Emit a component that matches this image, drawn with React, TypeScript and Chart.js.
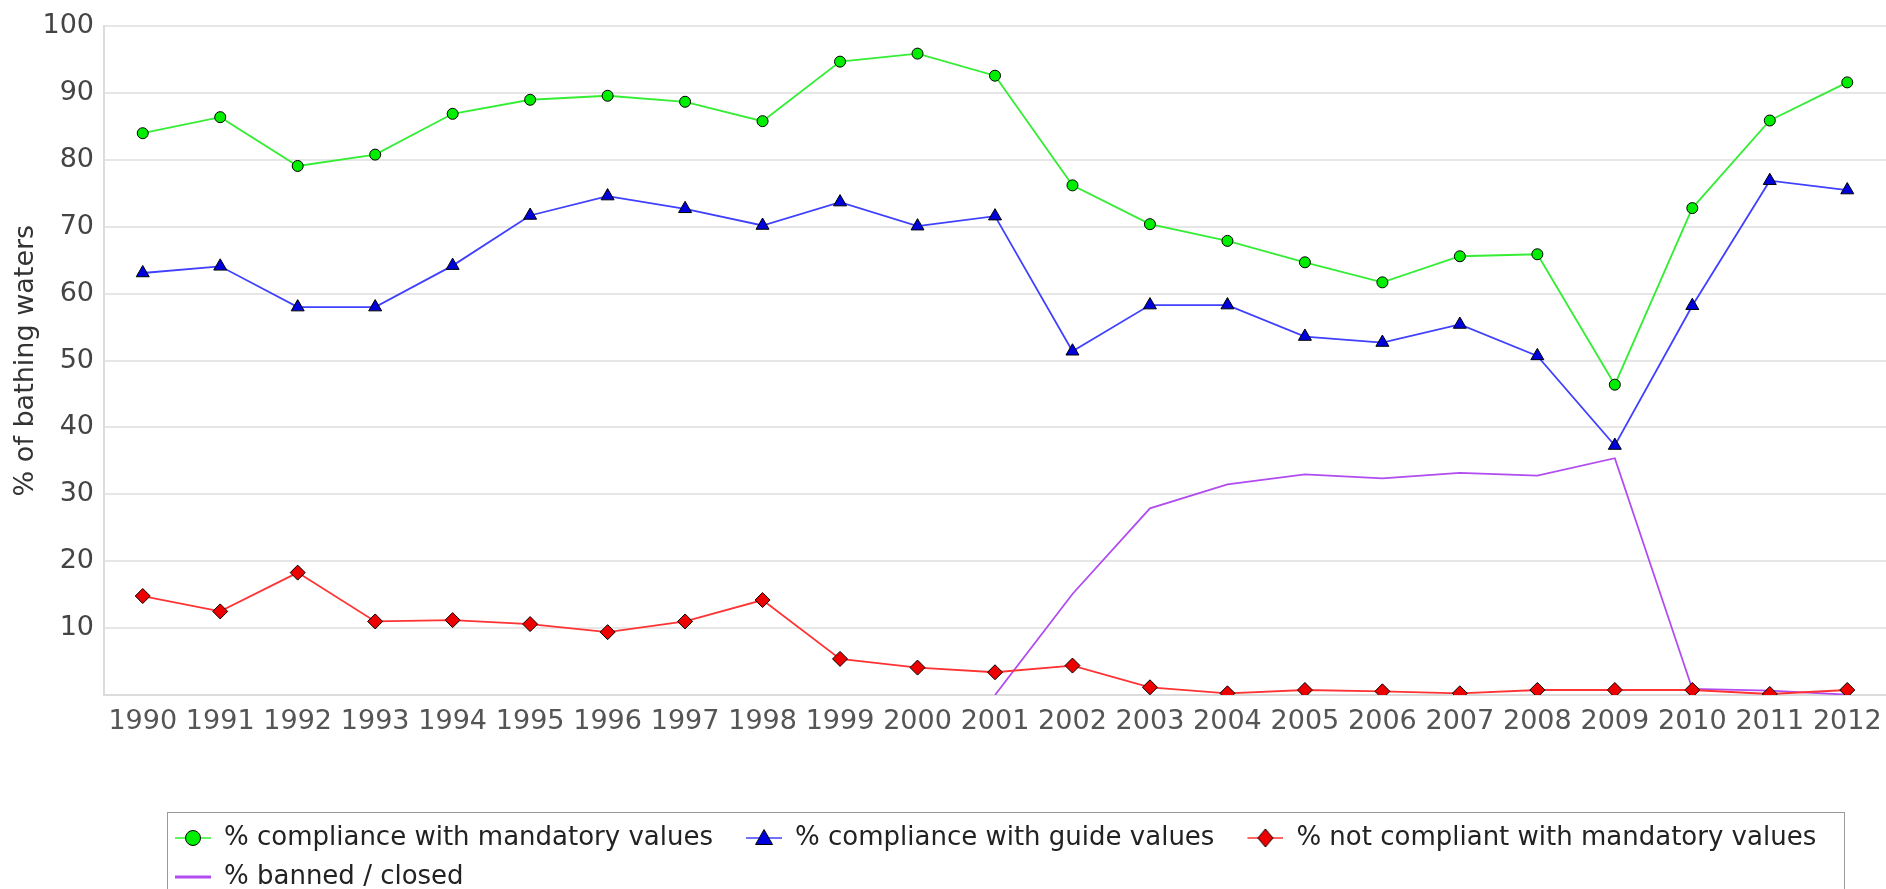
import React, { useEffect, useRef } from 'react';
import { Chart, registerables } from 'chart.js';

Chart.register(...registerables);

const years = ['1990', '1991', '1992', '1993', '1994', '1995', '1996', '1997', '1998', '1999', '2000', '2001', '2002', '2003', '2004', '2005', '2006', '2007', '2008', '2009', '2010', '2011', '2012'];

const mandatoryCompliance = [84.0, 86.4, 79.1, 80.8, 86.9, 89.0, 89.6, 88.7, 85.8, 94.7, 95.9, 92.6, 76.2, 70.4, 67.9, 64.7, 61.7, 65.6, 65.9, 46.4, 72.8, 85.9, 91.6];
const guideCompliance = [63.1, 64.1, 58.0, 58.0, 64.2, 71.7, 74.6, 72.7, 70.2, 73.7, 70.1, 71.6, 51.4, 58.3, 58.3, 53.6, 52.7, 55.4, 50.7, 37.3, 58.2, 76.9, 75.5];
const notCompliant = [14.8, 12.5, 18.3, 11.0, 11.2, 10.6, 9.4, 11.0, 14.2, 5.4, 4.1, 3.4, 4.4, 1.15, 0.25, 0.75, 0.55, 0.25, 0.75, 0.75, 0.75, 0.15, 0.75];
const bannedClosed = [null, null, null, null, null, null, null, null, null, null, null, 0, 15.1, 27.9, 31.5, 33.0, 32.4, 33.2, 32.8, 35.4, 0.9, 0.65, 0.05];

const seriesLabels = [
  '% compliance with mandatory values',
  '% compliance with guide values',
  '% not compliant with mandatory values',
  '% banned / closed',
];

const yTicks = [0, 10, 20, 30, 40, 50, 60, 70, 80, 90, 100];

const FONT = "'DejaVu Sans'";

function makeMarker(kind: string, lineColor: string, fill: string) {
  const c = document.createElement('canvas');
  c.width = 56;
  c.height = 24;
  const g = c.getContext('2d')!;
  const cy = 12;
  const cx = 38;
  g.strokeStyle = lineColor;
  g.lineWidth = kind === 'none' ? 3 : 1.6;
  g.beginPath();
  g.moveTo(20, cy);
  g.lineTo(56, cy);
  g.stroke();
  if (kind !== 'none') {
    g.fillStyle = fill;
    g.strokeStyle = '#000';
    g.lineWidth = 1;
    g.beginPath();
    if (kind === 'circle') {
      g.arc(cx, cy, 7.5, 0, Math.PI * 2);
    } else if (kind === 'triangle') {
      g.moveTo(cx, cy - 8.5);
      g.lineTo(cx + 8.5, cy + 6.5);
      g.lineTo(cx - 8.5, cy + 6.5);
      g.closePath();
    } else {
      g.moveTo(cx, cy - 9);
      g.lineTo(cx + 7.5, cy);
      g.lineTo(cx, cy + 9);
      g.lineTo(cx - 7.5, cy);
      g.closePath();
    }
    g.fill();
    g.stroke();
  }
  return c;
}

const legendFrame = {
  id: 'legendFrame',
  afterLayout(chart: any) {
    const lg = chart.legend;
    if (lg) {
      lg.left = 142;
    }
  },
  afterDraw(chart: any) {
    const lg = chart.legend;
    if (!lg) return;
    const ctx = chart.ctx;
    ctx.save();
    ctx.strokeStyle = '#9a9a9a';
    ctx.lineWidth = 1;
    ctx.strokeRect(lg.left + 25.5, lg.top + 0.5, 1677, 200);
    ctx.restore();
  },
};

export default function App() {
  const ref = useRef<HTMLCanvasElement>(null);

  useEffect(() => {
    const canvas = ref.current;
    if (!canvas) return;
    Chart.defaults.font.family = FONT;

    const markers = [
      makeMarker('circle', '#33ee33', '#00ee00'),
      makeMarker('triangle', '#4040ff', '#0000dd'),
      makeMarker('diamond', '#ff3333', '#ee0000'),
      makeMarker('none', '#b04cf0', '#b04cf0'),
    ];

    const chart = new Chart(canvas, {
      type: 'line',
      data: {
        labels: years,
        datasets: [
          {
            label: seriesLabels[0],
            data: mandatoryCompliance,
            borderColor: '#33ee33',
            borderWidth: 1.8,
            pointStyle: 'circle',
            pointRadius: 5.5,
            pointBackgroundColor: '#00ee00',
            pointBorderColor: '#000',
            pointBorderWidth: 1,
            tension: 0,
          },
          {
            label: seriesLabels[1],
            data: guideCompliance,
            borderColor: '#4040ff',
            borderWidth: 1.8,
            pointStyle: 'triangle',
            pointRadius: 7.5,
            pointBackgroundColor: '#0000dd',
            pointBorderColor: '#000',
            pointBorderWidth: 1,
            tension: 0,
          },
          {
            label: seriesLabels[2],
            data: notCompliant,
            borderColor: '#ff3333',
            borderWidth: 1.8,
            pointStyle: 'rectRot',
            pointRadius: 7.5,
            pointBackgroundColor: '#ee0000',
            pointBorderColor: '#000',
            pointBorderWidth: 1,
            tension: 0,
          },
          {
            label: seriesLabels[3],
            data: bannedClosed,
            borderColor: '#b04cf0',
            borderWidth: 1.8,
            pointRadius: 0,
            tension: 0,
          },
        ],
      },
      options: {
        animation: false,
        responsive: true,
        maintainAspectRatio: false,
        layout: { autoPadding: false, padding: { top: 22, left: 0, right: 0, bottom: 0 } },
        scales: {
          x: {
            offset: true,
            grid: { display: false, drawTicks: false },
            border: { display: true, color: '#dcdcdc', width: 2 },
            ticks: {
              autoSkip: false,
              maxRotation: 0,
              minRotation: 0,
              color: '#555',
              padding: 11,
              font: { family: FONT, size: 27 },
            },
            afterFit: (s: any) => {
              s.height = 117;
              s.paddingLeft = 0;
              s.paddingRight = 0;
            },
          },
          y: {
            min: yTicks[0],
            max: yTicks[yTicks.length - 1],
            afterBuildTicks: (s: any) => {
              s.ticks = yTicks.map((v) => ({ value: v }));
            },
            afterFit: (s: any) => {
              s.width = 104;
            },
            ticks: {
              padding: 10,
              color: '#444',
              font: { family: FONT, size: 27 },
              callback: (v: any) => (Number(v) === 0 ? '' : String(v)),
            },
            grid: { color: '#e6e6e6', lineWidth: 2, drawTicks: false },
            border: { display: true, color: '#dcdcdc', width: 2 },
            title: {
              display: true,
              text: '% of bathing waters',
              color: '#333',
              font: { family: FONT, size: 27 },
              padding: { top: 10, bottom: 0 },
            },
          },
        },
        plugins: {
          legend: {
            position: 'bottom',
            align: 'start',
            labels: {
              usePointStyle: true,
              pointStyleWidth: 56,
              padding: 13,
              color: '#222',
              font: { family: FONT, size: 26 },
              generateLabels: (c: any) =>
                Chart.defaults.plugins.legend.labels.generateLabels(c).map((item: any, i: number) => ({
                  ...item,
                  pointStyle: markers[i],
                })),
            },
          },
          tooltip: { enabled: false },
        },
      },
      plugins: [legendFrame],
    } as any);

    return () => chart.destroy();
  }, []);

  return (
    <div style={{ position: 'absolute', left: 0, top: 0, width: 1886, height: 889, overflow: 'hidden', background: '#fff' }}>
      <div style={{ position: 'relative', width: 1886, height: 900 }}>
        <canvas ref={ref} />
      </div>
    </div>
  );
}
